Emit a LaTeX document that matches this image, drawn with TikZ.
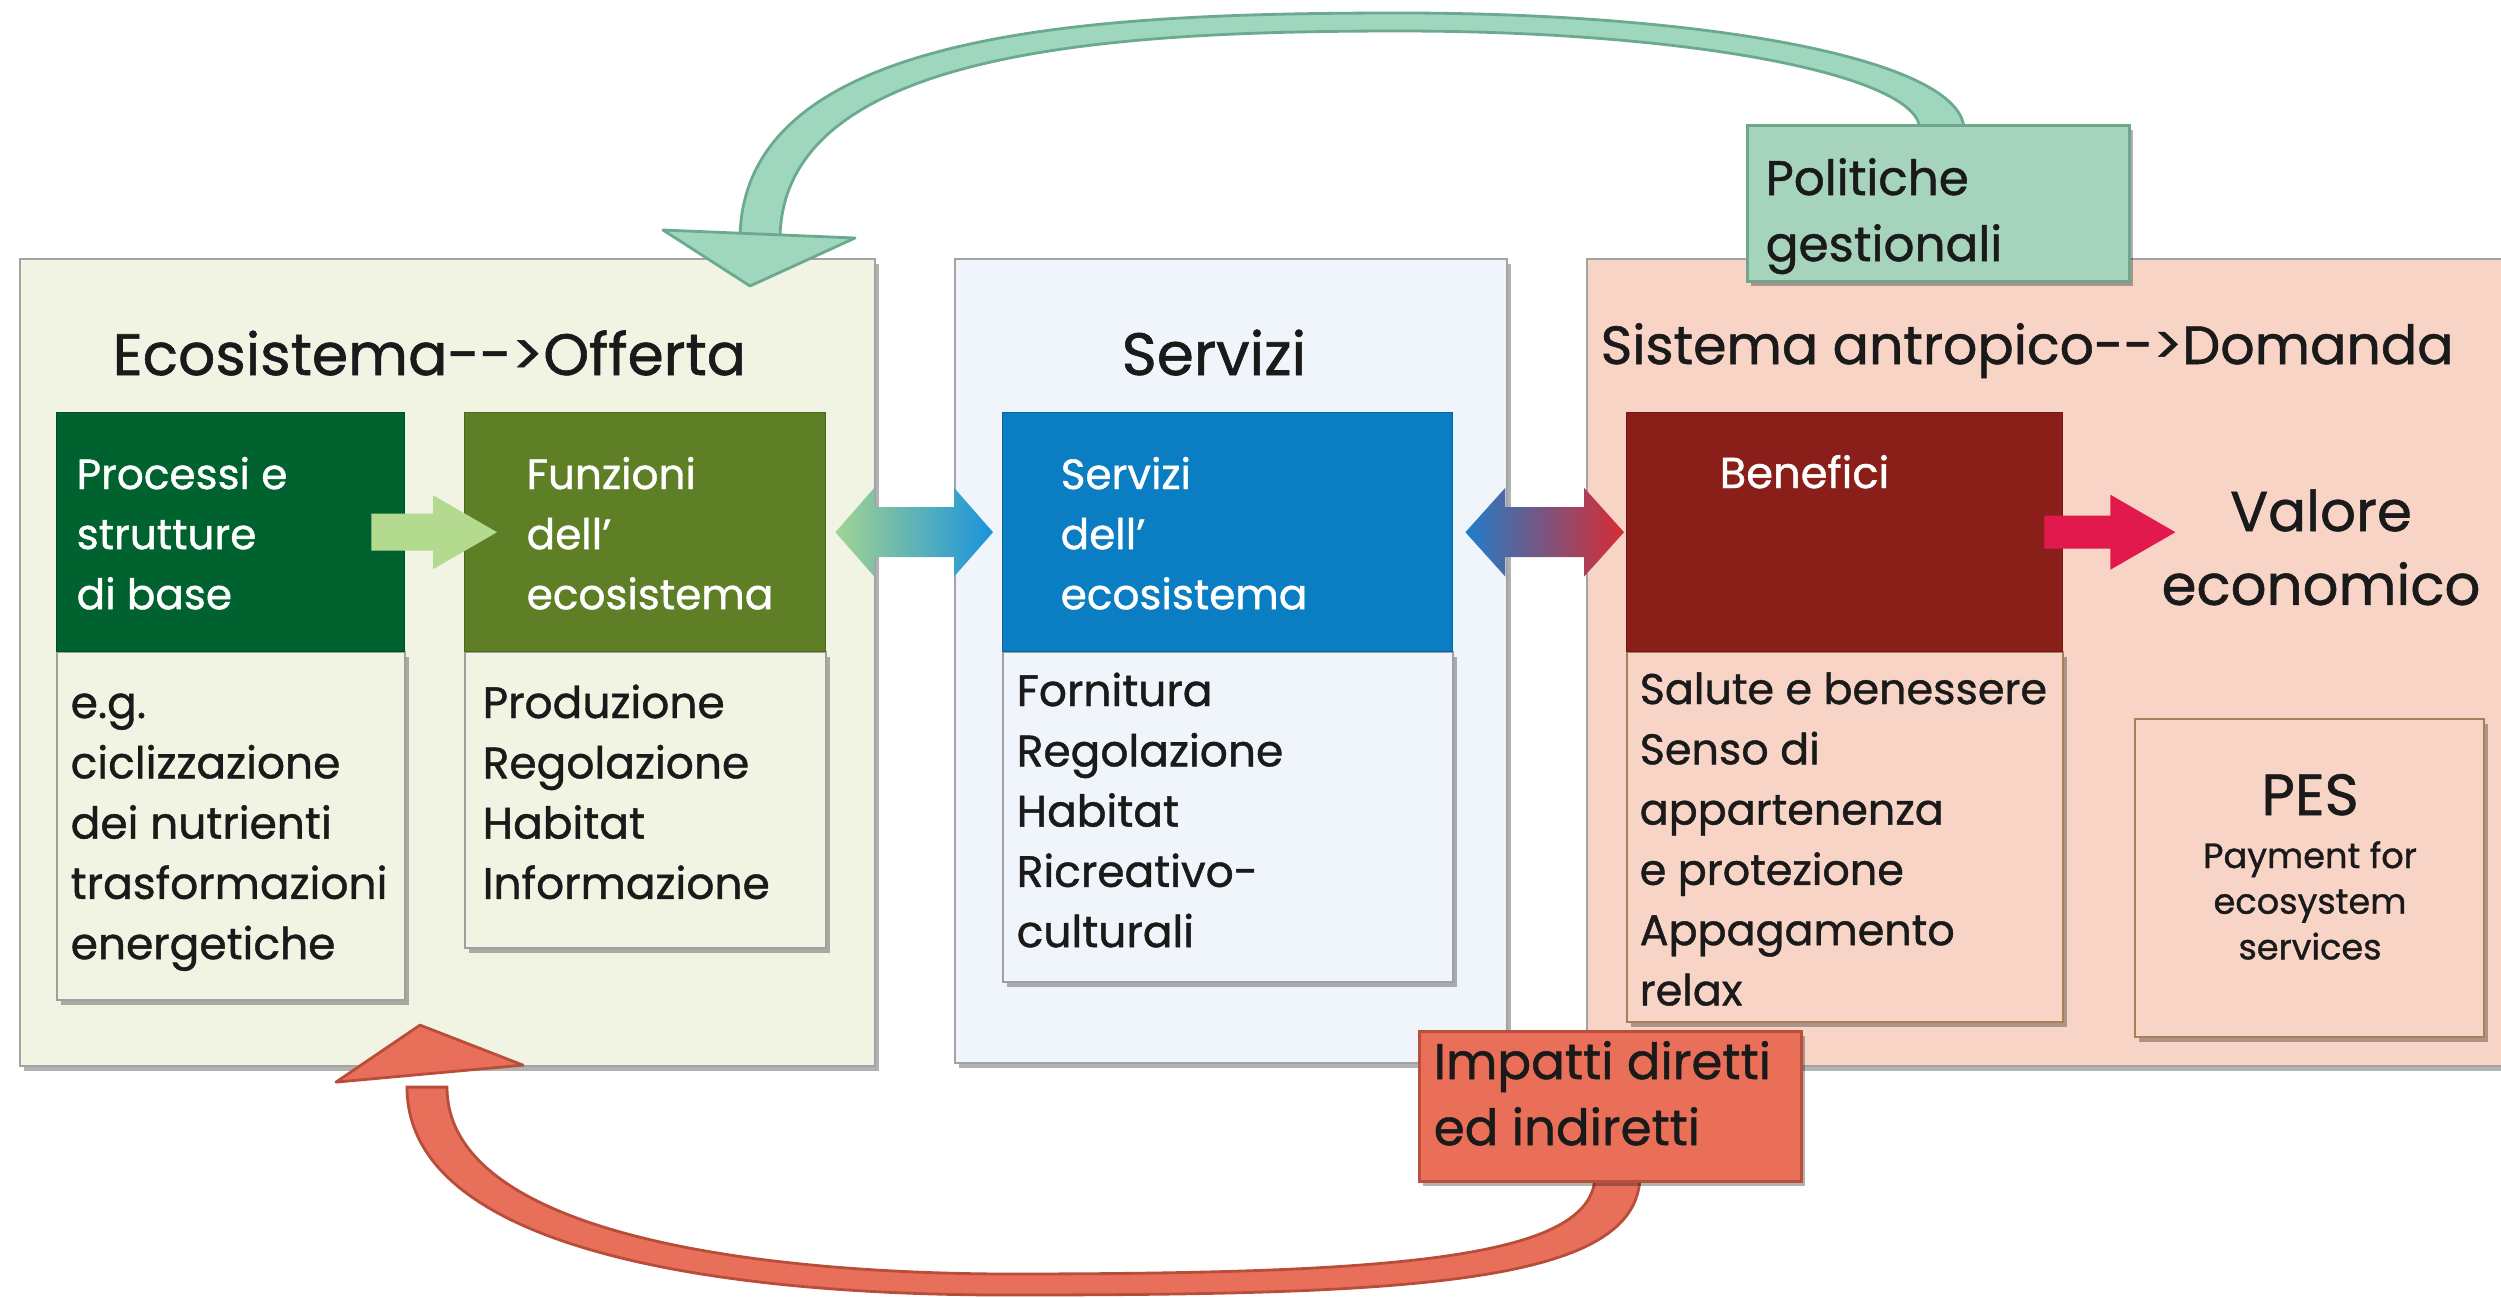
\documentclass[tikz,border=0pt]{standalone}
\usepackage{fontspec}
\setmainfont{Poppins}[FakeBold=1.0]
\usepackage{graphicx}
\usetikzlibrary{calc,shadows}

\definecolor{ecobg}{HTML}{F2F4E3}
\definecolor{servbg}{HTML}{F0F5FB}
\definecolor{antrbg}{HTML}{F8D4C7}
\definecolor{procc}{HTML}{00622F}
\definecolor{funzc}{HTML}{5E7F25}
\definecolor{servc}{HTML}{0B7DC2}
\definecolor{benc}{HTML}{8A1F1A}
\definecolor{polc}{HTML}{A5D3BC}
\definecolor{polb}{HTML}{6FA68C}
\definecolor{impc}{HTML}{E96F59}
\definecolor{impb}{HTML}{B9503D}
\definecolor{garrow}{HTML}{9ED6BE}
\definecolor{garrowb}{HTML}{6CAA8F}
\definecolor{rarrowc}{HTML}{E8705A}
\definecolor{rarrowb}{HTML}{B84E3A}
\definecolor{lgreen}{HTML}{B3DA8E}
\definecolor{mgreen}{HTML}{A2D392}
\definecolor{blueA}{HTML}{1A93DC}
\definecolor{blueB}{HTML}{1F7DC9}
\definecolor{redB}{HTML}{D92B33}
\definecolor{crim}{HTML}{E2194D}
\definecolor{boxline}{HTML}{A3A3A3}
\definecolor{txt}{HTML}{1A1A1A}

\newcommand\fs[2]{\fontsize{#1}{#2}\selectfont}
\newcommand\tl[1]{\begin{tabular}[t]{@{}l@{}}#1\end{tabular}}
\newcommand\tc[1]{\begin{tabular}[t]{@{}c@{}}#1\end{tabular}}

% single block arrow: style, tail, tip, shaft half, head half, head length
\newcommand\rarrow[6]{\path[#1] let \p1=(#2), \p2=(#3) in
 (\x1,\y1+#4) -- (\x2-#6,\y1+#4) -- (\x2-#6,\y1+#5) -- (\x2,\y1) --
 (\x2-#6,\y1-#5) -- (\x2-#6,\y1-#4) -- (\x1,\y1-#4) -- cycle;}
% double block arrow: style, left tip, right tip, shaft half, head half, head length
\newcommand\darrow[6]{\path[#1] let \p1=(#2), \p2=(#3) in
 (\x1,\y1) -- (\x1+#6,\y1+#5) -- (\x1+#6,\y1+#4) -- (\x2-#6,\y1+#4) --
 (\x2-#6,\y1+#5) -- (\x2,\y1) -- (\x2-#6,\y1-#5) -- (\x2-#6,\y1-#4) --
 (\x1+#6,\y1-#4) -- (\x1+#6,\y1-#5) -- cycle;}

\tikzset{
 shad/.style={drop shadow={shadow xshift=0.35mm, shadow yshift=-0.45mm, opacity=0.3, fill=black}},
 outerbox/.style={draw=boxline, line width=0.6pt, anchor=north west, inner sep=0, shad},
 hdrbox/.style={anchor=north west, inner sep=0, fill=#1, draw=#1!80!black, line width=0.4pt},
 subbox/.style={anchor=north west, inner sep=0, fill=#1, line width=0.6pt, shad},
 lbl/.style={anchor=base west, inner sep=0, text=txt},
 wlbl/.style={anchor=base west, inner sep=0, text=white},
 clbl/.style={anchor=base, inner sep=0, text=txt},
 tagbox/.style={anchor=north west, inner sep=0, line width=0.9pt, shad},
}

\begin{document}
\begin{tikzpicture}[x=0.1mm,y=-0.1mm]
\useasboundingbox[fill=white] (0,0) rectangle (2501,1297);

% outer boxes
\node[outerbox, fill=ecobg, minimum width=85.5mm, minimum height=80.7mm] (eco) at (19,258) {};
\node[outerbox, fill=servbg, minimum width=55.2mm, minimum height=80.4mm] (serv) at (954,258) {};
\node[outerbox, fill=antrbg, minimum width=95mm, minimum height=80.7mm] (antr) at (1586,258) {};

% corners of the label boxes
\path (1746,124) coordinate (polNW) (1418,1030) coordinate (impNW);

% feedback arrow ends
\coordinate (gS) at ($(polNW)+(196,6)$);     % 1942,130
\coordinate (gE) at ($(eco.north west)+(741,-18)$); % 760,240
\coordinate (rS) at ($(impNW)+(199,145)$);   % 1617,1175
\coordinate (rE) at ($(eco.south west)+(408,20)$);  % 427,1085

% green feedback arrow (Politiche -> Ecosistema)
\path[fill=garrow, draw=garrowb, line width=0.8pt]
  ($(gE)+(-20,0)$) .. controls ($(gE)+(-20,-210)$) and (1090,13) .. (1400,13)
  .. controls (1710,13) and ($(gS)+(22,-70)$) .. ($(gS)+(22,0)$)
  -- ($(gS)+(-22,0)$) .. controls ($(gS)+(-22,-55)$) and (1690,31) .. (1400,31)
  .. controls (1110,31) and ($(gE)+(20,-190)$) .. ($(gE)+(20,0)$) -- cycle;
\path[fill=garrow, draw=garrowb, line width=0.8pt, line join=round]
  ($(gE)+(-97,-10)$) -- ($(gE)+(95,-2)$) -- ($(gE)+(-10,46)$) -- cycle;

% red feedback arrow (Impatti -> Ecosistema)
\path[fill=rarrowc, draw=rarrowb, line width=0.8pt]
  ($(rE)+(-20,0)$) .. controls ($(rE)+(-20,155)$) and (690,1294) .. (1000,1295)
  .. controls (1410,1295) and ($(rS)+(23,110)$) .. ($(rS)+(23,0)$)
  -- ($(rS)+(-22,0)$) .. controls ($(rS)+(-22,85)$) and (1390,1274) .. (1000,1274)
  .. controls (710,1272) and ($(rE)+(20,135)$) .. ($(rE)+(20,0)$) -- cycle;
\path[fill=rarrowc, draw=rarrowb, line width=0.8pt, line join=round]
  ($(rE)+(-91,-5)$) -- ($(rE)+(96,-22)$) -- ($(rE)+(-7,-62)$) -- cycle;

% inner boxes
\node[subbox=ecobg, draw=gray!75, minimum width=34.8mm, minimum height=34.8mm] (procs) at (56,651) {};
\node[hdrbox=procc, minimum width=34.8mm, minimum height=23.9mm] (proch) at (56,412) {};
\node[subbox=ecobg, draw=gray!75, minimum width=36.1mm, minimum height=29.6mm] (funzs) at (464,651) {};
\node[hdrbox=funzc, minimum width=36.1mm, minimum height=23.9mm] (funzh) at (464,412) {};
\node[subbox=servbg, draw=gray!75, minimum width=45mm, minimum height=33mm] (servs) at (1002,651) {};
\node[hdrbox=servc, minimum width=45mm, minimum height=23.9mm] (servh) at (1002,412) {};
\node[subbox=antrbg, draw=brown!60!gray, minimum width=43.6mm, minimum height=37mm] (bens) at (1626,651) {};
\node[hdrbox=benc, minimum width=43.6mm, minimum height=23.9mm] (benh) at (1626,412) {};
\node[subbox=antrbg, draw=brown!60!gray, minimum width=34.9mm, minimum height=31.8mm] (pes) at (2134,718) {};

% block arrows
\coordinate (a1s) at ($(proch.east)+(-34,0)$);
\coordinate (a1t) at ($(funzh.west)+(33,0)$);
\coordinate (a2l) at ($(funzh.east)+(9,0)$);
\coordinate (a2r) at ($(servh.west)+(-9,0)$);
\coordinate (a3l) at ($(servh.east)+(12,0)$);
\coordinate (a3r) at ($(benh.west)+(-2,0)$);
\coordinate (a4s) at ($(benh.east)+(-19,0)$);
\coordinate (a4t) at ($(benh.east)+(112,0)$);
\rarrow{fill=lgreen}{a1s}{a1t}{1.85mm}{3.7mm}{6.4mm}
\darrow{left color=mgreen, right color=blueA, shade}{a2l}{a2r}{2.5mm}{4.45mm}{3.9mm}
\darrow{left color=blueB, right color=redB, shade}{a3l}{a3r}{2.5mm}{4.45mm}{4.0mm}
\rarrow{fill=crim}{a4s}{a4t}{1.65mm}{3.75mm}{6.5mm}

% titles
\node[lbl] (teco) at (112,375) {\fs{16.6pt}{20pt}Ecosistema-{}->Offerta};
\node[lbl] (tserv) at (1121,375) {\fs{17pt}{20pt}Servizi};
\node[lbl] (tantr) at (1600,364) {\fs{15.3pt}{18pt}Sistema antropico-{}->Domanda};

% header texts
\node[wlbl] (tproch) at (76,489) {\fs{12pt}{17.1pt}\tl{Processi e\\strutture\\di base}};
\node[wlbl] (tfunzh) at (526,489) {\fs{12pt}{17.1pt}\tl{Funzioni\\dell’\\ecosistema}};
\node[wlbl] (tservh) at (1060,489) {\fs{12pt}{17.1pt}\tl{Servizi\\dell’\\ecosistema}};
\node[wlbl] (tbenh) at (1719,488) {\fs{12.3pt}{17.1pt}Benefici};

% sub texts
\node[lbl] (tprocs) at (70,718) {\fs{12.5pt}{17.15pt}\tl{e.g.\\ciclizzazione\\dei nutrienti\\trasformazioni\\energetiche}};
\node[lbl] (tfunzs) at (482,718) {\fs{12.5pt}{17.15pt}\tl{Produzione\\Regolazione\\Habitat\\Informazione}};
\node[lbl] (tservs) at (1016,706) {\fs{12.5pt}{17.15pt}\tl{Fornitura\\Regolazione\\Habitat\\Ricreativo-\\culturali}};
\node[lbl] (tbens) at (1639,704) {\fs{12.2pt}{17.15pt}\tl{Salute e benessere\\Senso di\\appartenenza\\e protezione\\Appagamento\\relax}};

% valore, PES
\node[clbl] (tval) at (2321,531) {\fs{16pt}{21pt}\tc{Valore\\economico}};
\node[clbl] (tpes) at (2310,815) {\fs{16.5pt}{20pt}PES};
\node[clbl] (tpay) at (2310,868) {\fs{10pt}{13pt}\tc{Payment for\\ecosystem\\services}};

% tag boxes
\node[tagbox, fill=polc, draw=polb, minimum width=38.2mm, minimum height=15.6mm] (pol) at (polNW) {};
\node[tagbox, fill=impc, draw=impb, minimum width=38.2mm, minimum height=15mm] (imp) at (impNW) {};
\node[lbl] (tpol) at (1765,195) {\fs{13.8pt}{18.8pt}\tl{Politiche\\gestionali}};
\node[lbl] (timp) at (1433,1079) {\fs{14.2pt}{18.8pt}\tl{Impatti diretti\\ed indiretti}};
\end{tikzpicture}
\end{document}
